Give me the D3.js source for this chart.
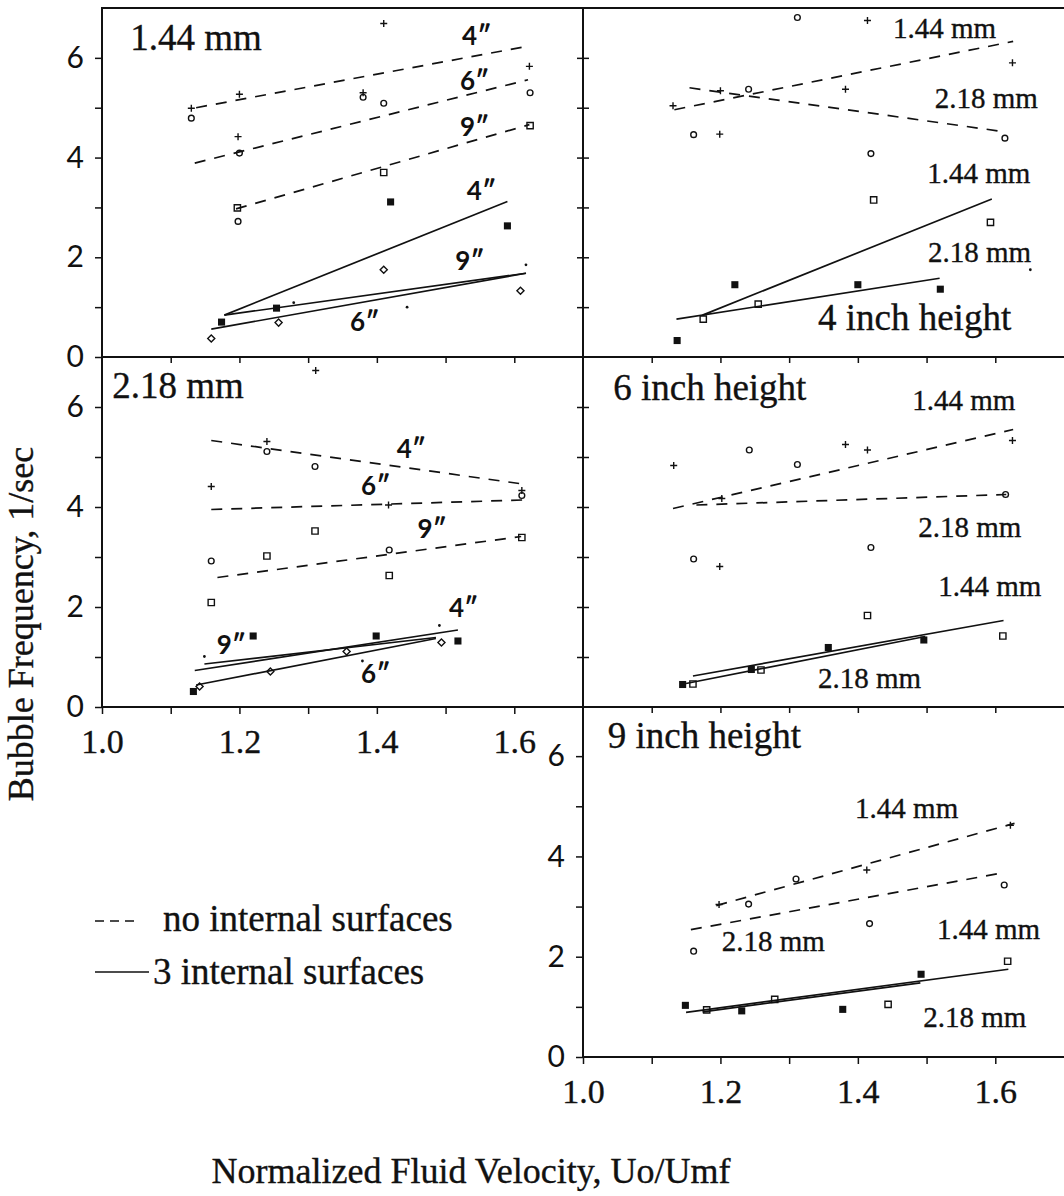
<!DOCTYPE html>
<html>
<head>
<meta charset="utf-8">
<script src="https://cdn.jsdelivr.net/npm/d3@7"></script>
<style>
  body { margin: 0; background: #fff; }
</style>
</head>
<body>
<script>
// ---------- tick values ----------
const xTickValues = [1.0, 1.1, 1.2, 1.3, 1.4, 1.5, 1.6]
const xLabelValues = [1.0, 1.2, 1.4, 1.6]
const yTickValues = [0, 1, 2, 3, 4, 5, 6]
const yLabelValues = [0, 2, 4, 6]

// ---------- panel A : 1.44 mm (top left) ----------
const A_plus = [[1.13, 4.99], [1.20, 5.27], [1.198, 4.42], [1.41, 6.69], [1.38, 5.30], [1.622, 5.83]]
const A_circle = [[1.13, 4.79], [1.20, 4.09], [1.198, 2.72], [1.38, 5.21], [1.41, 5.09], [1.623, 5.30]]
const A_openSq = [[1.197, 2.99], [1.41, 3.70], [1.623, 4.64]]
const A_fillSq = [[1.42, 3.11], [1.59, 2.63], [1.174, 0.70], [1.254, 0.98]]
const A_diamond = [[1.159, 0.37], [1.257, 0.69], [1.41, 1.75], [1.609, 1.33]]
const A_dot = [[1.279, 1.09], [1.444, 1.00], [1.617, 1.85]]
const A_dashed = [[1.137, 5.00, 1.622, 6.24], [1.135, 3.89, 1.62, 5.56], [1.195, 2.97, 1.622, 4.66]]
const A_solid = [[1.178, 0.84, 1.59, 3.12], [1.178, 0.84, 1.617, 1.68], [1.159, 0.56, 1.617, 1.68]]
const A_title = ['1.44 mm', 1.041, 6.16]
const A_inch = [['4″', 1.524, 6.26], ['6″', 1.521, 5.35], ['9″', 1.521, 4.43],
                ['4″', 1.531, 3.15], ['9″', 1.514, 1.74], ['6″', 1.361, 0.52]]
const A_mm = []

// ---------- panel B : 4 inch height (top right) ----------
const B_plus = [[1.131, 5.04], [1.20, 5.34], [1.199, 4.47], [1.382, 5.37], [1.414, 6.75], [1.625, 5.90]]
const B_circle = [[1.161, 4.46], [1.241, 5.37], [1.312, 6.81], [1.419, 4.08], [1.614, 4.39]]
const B_openSq = [[1.175, 0.76], [1.255, 1.06], [1.423, 3.15], [1.593, 2.70]]
const B_fillSq = [[1.137, 0.33], [1.221, 1.45], [1.40, 1.45], [1.52, 1.36]]
const B_diamond = []
const B_dot = [[1.651, 1.75]]
const B_dashed = [[1.133, 4.96, 1.626, 6.33], [1.155, 5.40, 1.612, 4.52]]
const B_solid = [[1.174, 0.84, 1.595, 3.17], [1.136, 0.76, 1.519, 1.58]]
const B_title = ['4 inch height', 1.342, 0.54]
const B_inch = []
const B_mm = [['1.44 mm', 1.451, 6.40], ['2.18 mm', 1.512, 4.99], ['1.44 mm', 1.501, 3.49], ['2.18 mm', 1.502, 1.91]]

// ---------- panel C : 2.18 mm (middle left) ----------
const C_plus = [[1.311, 6.73], [1.24, 5.31], [1.159, 4.41], [1.417, 4.04], [1.611, 4.33]]
const C_circle = [[1.24, 5.11], [1.31, 4.81], [1.159, 2.92], [1.418, 3.14], [1.611, 4.23]]
const C_openSq = [[1.31, 3.52], [1.24, 3.02], [1.418, 2.63], [1.159, 2.09], [1.611, 3.39]]
const C_fillSq = [[1.22, 1.42], [1.399, 1.42], [1.518, 1.32], [1.133, 0.31]]
const C_diamond = [[1.142, 0.41], [1.245, 0.71], [1.356, 1.11], [1.494, 1.29]]
const C_dot = [[1.149, 1.01], [1.379, 0.92], [1.491, 1.63]]
const C_dashed = [[1.159, 5.33, 1.607, 4.47], [1.159, 3.95, 1.612, 4.14], [1.168, 2.59, 1.61, 3.41]]
const C_solid = [[1.135, 0.73, 1.518, 1.54], [1.149, 0.86, 1.486, 1.39], [1.137, 0.44, 1.486, 1.37]]
const C_title = ['2.18 mm', 1.015, 6.18]
const C_inch = [['4″', 1.429, 4.98], ['6″', 1.377, 4.24], ['9″', 1.459, 3.38],
                ['4″', 1.505, 1.80], ['9″', 1.167, 1.06], ['6″', 1.377, 0.48]]
const C_mm = []

// ---------- panel D : 6 inch height (middle right) ----------
const D_plus = [[1.132, 4.83], [1.202, 4.17], [1.199, 2.81], [1.382, 5.25], [1.414, 5.14], [1.625, 5.33]]
const D_circle = [[1.161, 2.96], [1.242, 5.14], [1.312, 4.85], [1.419, 3.19], [1.615, 4.25]]
const D_openSq = [[1.16, 0.46], [1.259, 0.74], [1.414, 1.83], [1.611, 1.42]]
const D_fillSq = [[1.145, 0.45], [1.245, 0.75], [1.357, 1.19], [1.496, 1.34]]
const D_diamond = []
const D_dot = []
const D_dashed = [[1.131, 3.97, 1.626, 5.55], [1.165, 4.04, 1.616, 4.25]]
const D_solid = [[1.16, 0.62, 1.612, 1.73], [1.15, 0.47, 1.498, 1.41]]
const D_title = ['6 inch height', 1.044, 6.14]
const D_inch = []
const D_mm = [['1.44 mm', 1.479, 5.94], ['2.18 mm', 1.488, 3.40], ['1.44 mm', 1.517, 2.22], ['2.18 mm', 1.342, 0.38]]

// ---------- panel E : 9 inch height (bottom) ----------
const E_plus = [[1.198, 3.04], [1.413, 3.73], [1.622, 4.62]]
const E_circle = [[1.161, 2.11], [1.241, 3.05], [1.31, 3.55], [1.417, 2.66], [1.613, 3.43]]
const E_openSq = [[1.18, 0.94], [1.279, 1.15], [1.444, 1.05], [1.618, 1.91]]
const E_fillSq = [[1.149, 1.03], [1.231, 0.92], [1.378, 0.95], [1.492, 1.65]]
const E_diamond = []
const E_dot = []
const E_dashed = [[1.194, 3.02, 1.628, 4.66], [1.157, 2.54, 1.614, 3.68]]
const E_solid = [[1.15, 0.89, 1.619, 1.75], [1.174, 0.90, 1.491, 1.48]]
const E_title = ['9 inch height', 1.036, 6.16]
const E_inch = []
const E_mm = [['1.44 mm', 1.396, 4.77], ['2.18 mm', 1.202, 2.11], ['1.44 mm', 1.515, 2.35], ['2.18 mm', 1.495, 0.60]]

const legendLabels = ['no internal surfaces', '3 internal surfaces']
const xTitle = 'Normalized Fluid Velocity, Uo/Umf'
const yTitle = 'Bubble Frequency, 1/sec'

// ---------- layout ----------
const width = 1064
const height = 1196
const colLeft = [102, 583]
const colWidth = 481
const rowTop = [8, 357, 706]
const rowHeight = [349, 350, 351]
const serif = '"Liberation Serif", "Times New Roman", serif'
const sans = 'Lato, "DejaVu Sans", sans-serif'
const ink = '#111'

const svg = d3.select('body').append('svg')
    .attr('width', width)
    .attr('height', height)
    .style('background', '#fff')

function makeScales(col, row) {
    let x = d3.scaleLinear()
        .domain([1.0, 1.7])
        .range([colLeft[col], colLeft[col] + colWidth])
    let y = d3.scaleLinear()
        .domain([0, 7])
        .range([rowTop[row] + rowHeight[row], rowTop[row]])
    return { x, y }
}

const panels = [
    { col: 0, row: 0, plus: A_plus, circle: A_circle, openSq: A_openSq, fillSq: A_fillSq, diamond: A_diamond, dot: A_dot, dashed: A_dashed, solid: A_solid, title: A_title, inch: A_inch, mm: A_mm },
    { col: 1, row: 0, plus: B_plus, circle: B_circle, openSq: B_openSq, fillSq: B_fillSq, diamond: B_diamond, dot: B_dot, dashed: B_dashed, solid: B_solid, title: B_title, inch: B_inch, mm: B_mm },
    { col: 0, row: 1, plus: C_plus, circle: C_circle, openSq: C_openSq, fillSq: C_fillSq, diamond: C_diamond, dot: C_dot, dashed: C_dashed, solid: C_solid, title: C_title, inch: C_inch, mm: C_mm },
    { col: 1, row: 1, plus: D_plus, circle: D_circle, openSq: D_openSq, fillSq: D_fillSq, diamond: D_diamond, dot: D_dot, dashed: D_dashed, solid: D_solid, title: D_title, inch: D_inch, mm: D_mm },
    { col: 1, row: 2, plus: E_plus, circle: E_circle, openSq: E_openSq, fillSq: E_fillSq, diamond: E_diamond, dot: E_dot, dashed: E_dashed, solid: E_solid, title: E_title, inch: E_inch, mm: E_mm }
]

// marker styles
const markerTypes = [
    { key: 'plus', symbol: d3.symbolPlus, size: 18, fill: 'none', stroke: ink },
    { key: 'circle', symbol: d3.symbolCircle, size: 26, fill: 'none', stroke: ink },
    { key: 'openSq', symbol: d3.symbolSquare2, size: 50, fill: 'none', stroke: ink },
    { key: 'fillSq', symbol: d3.symbolSquare, size: 50, fill: ink, stroke: 'none' },
    { key: 'diamond', symbol: d3.symbolDiamond2, size: 32, fill: 'none', stroke: ink },
    { key: 'dot', symbol: d3.symbolCircle, size: 6, fill: ink, stroke: 'none' }
]

function styleAxis(g) {
    g.select('.domain').remove()
    g.selectAll('.tick line').attr('stroke', ink).attr('stroke-width', 1.5)
}

// 衬线字体稍加描边，接近扫描件的粗细
function serifText(sel, size) {
    sel.attr('font-family', serif)
        .attr('font-size', size)
        .attr('fill', ink)
        .attr('stroke', ink)
        .attr('stroke-width', 0.35)
}

function drawPanel(p) {
    let { x, y } = makeScales(p.col, p.row)
    let g = svg.append('g')

    // 拟合直线
    g.selectAll('line.dashed')
        .data(p.dashed)
        .enter()
        .append('line')
        .attr('class', 'dashed')
        .attr('x1', d => x(d[0])).attr('y1', d => y(d[1]))
        .attr('x2', d => x(d[2])).attr('y2', d => y(d[3]))
        .attr('stroke', ink)
        .attr('stroke-width', 1.7)
        .attr('stroke-dasharray', '11,9')

    g.selectAll('line.solid')
        .data(p.solid)
        .enter()
        .append('line')
        .attr('class', 'solid')
        .attr('x1', d => x(d[0])).attr('y1', d => y(d[1]))
        .attr('x2', d => x(d[2])).attr('y2', d => y(d[3]))
        .attr('stroke', ink)
        .attr('stroke-width', 1.7)

    // 数据点
    markerTypes.forEach(m => {
        g.selectAll('path.' + m.key)
            .data(p[m.key])
            .enter()
            .append('path')
            .attr('class', m.key)
            .attr('d', d3.symbol().type(m.symbol).size(m.size))
            .attr('transform', d => 'translate(' + x(d[0]) + ',' + y(d[1]) + ')')
            .attr('fill', m.fill)
            .attr('stroke', m.stroke)
            .attr('stroke-width', 1.4)
    })

    // 标注
    g.append('text')
        .attr('x', x(p.title[1]))
        .attr('y', y(p.title[2]))
        .call(serifText, 37)
        .text(p.title[0])

    g.selectAll('text.mm')
        .data(p.mm)
        .enter()
        .append('text')
        .attr('class', 'mm')
        .attr('x', d => x(d[1]))
        .attr('y', d => y(d[2]))
        .call(serifText, 29)
        .text(d => d[0])

    g.selectAll('text.inch')
        .data(p.inch)
        .enter()
        .append('text')
        .attr('class', 'inch')
        .attr('x', d => x(d[1]))
        .attr('y', d => y(d[2]))
        .attr('font-family', sans)
        .attr('font-weight', 'bold')
        .attr('font-size', 26)
        .attr('fill', ink)
        .text(d => d[0])
}

panels.forEach(drawPanel)

// ---------- frame ----------
let s00 = makeScales(0, 0), s01 = makeScales(0, 1)
let s10 = makeScales(1, 0), s11 = makeScales(1, 1), s12 = makeScales(1, 2)
let frameLines = [
    [s00.x(1.0), s00.y(7), s10.x(1.7), s10.y(7)],
    [s00.x(1.0), s00.y(7), s01.x(1.0), s01.y(0)],
    [s10.x(1.0), s10.y(7), s12.x(1.0), s12.y(0)],
    [s00.x(1.0), s00.y(0), s10.x(1.7), s10.y(0)],
    [s01.x(1.0), s01.y(0), s11.x(1.7), s11.y(0)],
    [s12.x(1.0), s12.y(0), s12.x(1.7), s12.y(0)]
]
svg.append('g').selectAll('line')
    .data(frameLines)
    .enter()
    .append('line')
    .attr('x1', d => d[0]).attr('y1', d => d[1])
    .attr('x2', d => d[2]).attr('y2', d => d[3])
    .attr('stroke', ink)
    .attr('stroke-width', 2)
    .attr('stroke-linecap', 'square')

// ---------- axes ----------
function yLabels(g) {
    g.selectAll('text')
        .attr('font-family', sans)
        .attr('font-size', 30)
        .attr('fill', ink)
}
function xLabels(g) {
    g.selectAll('text').call(serifText, 34)
}
const yFmt = d => yLabelValues.includes(d) ? d : ''
const xFmt = d => xLabelValues.some(v => Math.abs(v - d) < 1e-9) ? d3.format('.1f')(d) : ''

// 左列 y 轴
;[s00, s01].forEach(s => {
    svg.append('g')
        .attr('transform', 'translate(' + colLeft[0] + ',0)')
        .call(d3.axisLeft(s.y).tickValues(yTickValues).tickSize(7).tickPadding(11).tickFormat(yFmt))
        .call(styleAxis)
        .call(yLabels)
})
// 中线两侧刻度
;[s10, s11].forEach(s => {
    svg.append('g')
        .attr('transform', 'translate(' + colLeft[1] + ',0)')
        .call(d3.axisRight(s.y).tickValues(yTickValues.slice(1)).tickSize(6).tickFormat(''))
        .call(styleAxis)
    svg.append('g')
        .attr('transform', 'translate(' + colLeft[1] + ',0)')
        .call(d3.axisLeft(s.y).tickValues(yTickValues.slice(1)).tickSize(6).tickFormat(''))
        .call(styleAxis)
})
// 底部面板 y 轴
svg.append('g')
    .attr('transform', 'translate(' + colLeft[1] + ',0)')
    .call(d3.axisLeft(s12.y).tickValues(yTickValues).tickSize(7).tickPadding(11).tickFormat(yFmt))
    .call(styleAxis)
    .call(yLabels)

// 水平分隔线上的刻度
;[s00, s10, s11].forEach(s => {
    svg.append('g')
        .attr('transform', 'translate(0,' + s.y(0) + ')')
        .call(d3.axisBottom(s.x).tickValues(xTickValues.slice(1)).tickSize(6).tickFormat(''))
        .call(styleAxis)
})
;[s01, s12].forEach(s => {
    svg.append('g')
        .attr('transform', 'translate(0,' + s.y(0) + ')')
        .call(d3.axisBottom(s.x).tickValues(xTickValues).tickSize(7).tickPadding(15).tickFormat(xFmt))
        .call(styleAxis)
        .call(xLabels)
})

// ---------- legend ----------
let legend = svg.append('g').attr('transform', 'translate(95,921)')
legend.append('line')
    .attr('x1', 0).attr('x2', 44).attr('y1', 0).attr('y2', 0)
    .attr('stroke', ink).attr('stroke-width', 1.5).attr('stroke-dasharray', '9,6')
legend.append('line')
    .attr('x1', 0).attr('x2', 54).attr('y1', 51).attr('y2', 51)
    .attr('stroke', ink).attr('stroke-width', 1.5)
legend.selectAll('text')
    .data(legendLabels)
    .enter()
    .append('text')
    .attr('x', (d, i) => i == 0 ? 68 : 58)
    .attr('y', (d, i) => 10 + i * 53)
    .call(serifText, 37)
    .text(d => d)

// ---------- axis titles ----------
svg.append('text')
    .attr('x', 471)
    .attr('y', 1183)
    .attr('text-anchor', 'middle')
    .call(serifText, 36)
    .text(xTitle)

svg.append('text')
    .attr('transform', 'translate(33,624) rotate(-90)')
    .attr('text-anchor', 'middle')
    .call(serifText, 36)
    .text(yTitle)
</script>
</body>
</html>
